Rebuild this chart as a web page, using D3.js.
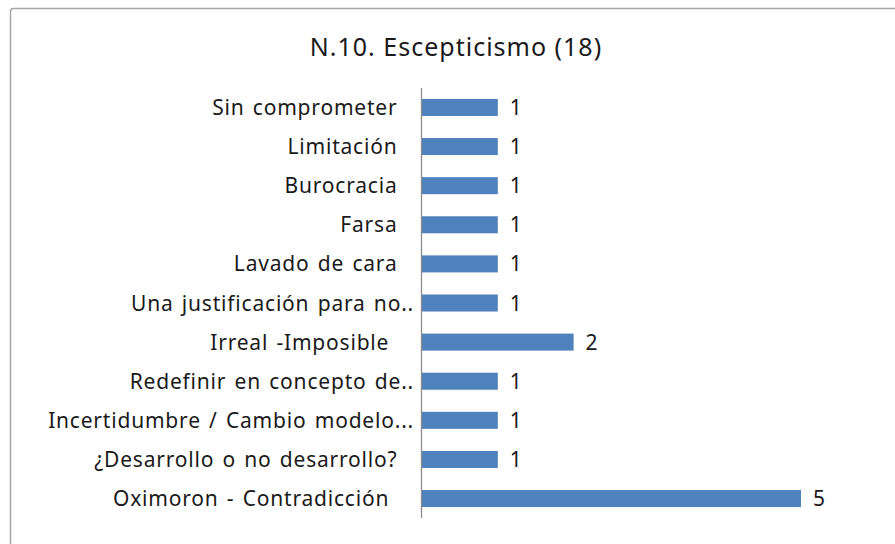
<!DOCTYPE html>
<html lang="en">
<head>
<meta charset="UTF-8">
<title>N.10. Escepticismo</title>
<script src="https://d3js.org/d3.v7.min.js"></script>
<style>
    body { margin: 0; background: white; }
    svg { display: block; }
    text { font-family: "Noto Sans", Tahoma, sans-serif; fill: #1a1a1a; white-space: pre; }
</style>
</head>
<body>
<svg width="895" height="544"></svg>
<script>
    // categories top to bottom, as in the source sheet (trailing spaces kept)
    const categories = [
        "Sin comprometer  ",
        "Limitación  ",
        "Burocracia  ",
        "Farsa  ",
        "Lavado de cara  ",
        "Una justificación para no..",
        "Irreal -Imposible   ",
        "Redefinir en concepto de..",
        "Incertidumbre / Cambio modelo...",
        "¿Desarrollo o no desarrollo?  ",
        "Oximoron - Contradicción   "
    ];
    const counts = [1, 1, 1, 1, 1, 1, 2, 1, 1, 1, 5];
    const title = "N.10. Escepticismo (18)";

    const svg = d3.select("svg");

    // outer chart border (runs off the right/bottom edge like the screenshot)
    svg.append("rect")
        .attr("x", 10.5).attr("y", 8.5)
        .attr("width", 900).attr("height", 560)
        .attr("rx", 3)
        .attr("fill", "white")
        .attr("stroke", "#a6a6a6")
        .attr("stroke-width", 1.5);

    svg.append("text")
        .attr("x", 456).attr("y", 56)
        .attr("text-anchor", "middle")
        .attr("font-size", 25)
        .attr("letter-spacing", 1)
        .text(title);

    const x = d3.scaleLinear().domain([0, 5]).range([422, 801]);
    const y = d3.scaleBand()
        .domain(categories)
        .range([88, 518])
        .paddingInner(0.565)
        .paddingOuter(0.28);

    svg.append("g").selectAll("rect")
        .data(categories)
        .join("rect")
        .attr("x", x(0))
        .attr("y", d => y(d))
        .attr("width", (d, i) => x(counts[i]) - x(0))
        .attr("height", y.bandwidth())
        .attr("fill", "#4f81bd");

    // category axis: plain vertical line, labels on the left
    svg.append("line")
        .attr("x1", 421.5).attr("x2", 421.5)
        .attr("y1", 88).attr("y2", 518)
        .attr("stroke", "#8c8c8c")
        .attr("stroke-width", 1.3);

    svg.append("g").selectAll("text")
        .data(categories)
        .join("text")
        .attr("x", 414)
        .attr("y", d => y(d) + y.bandwidth() / 2)
        .attr("dy", "0.36em")
        .attr("text-anchor", "end")
        .attr("font-size", 21)
        .attr("letter-spacing", 0.8)
        .attr("word-spacing", 2)
        .text(d => d);

    svg.append("g").selectAll("text")
        .data(categories)
        .join("text")
        .attr("x", (d, i) => x(counts[i]) + 12)
        .attr("y", d => y(d) + y.bandwidth() / 2)
        .attr("dy", "0.36em")
        .attr("font-size", 21)
        .text((d, i) => counts[i]);
</script>
</body>
</html>
